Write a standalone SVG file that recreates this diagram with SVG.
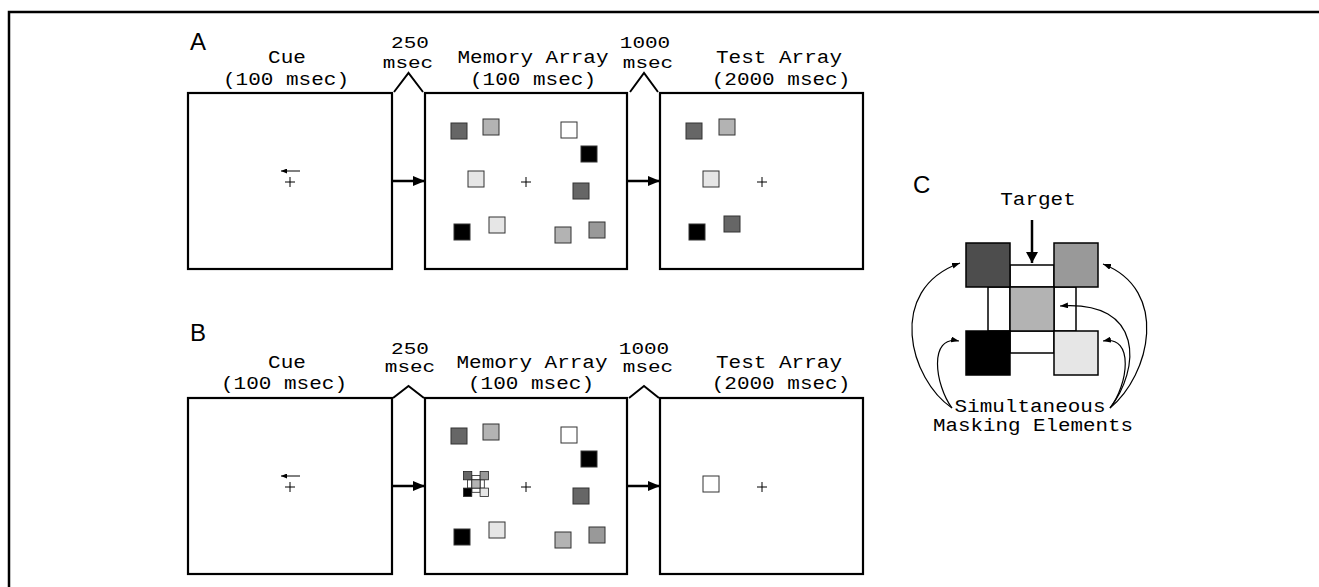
<svg xmlns="http://www.w3.org/2000/svg" width="1319" height="587" viewBox="0 0 1319 587">
<style>
.t{font-family:"Liberation Mono",monospace;font-size:18px;text-anchor:middle;fill:#000}
.d{font-family:"Liberation Mono",monospace;font-size:17px;text-anchor:middle;fill:#000}
.L{font-family:"Liberation Sans",Arial,sans-serif;font-size:24px;fill:#000}
.box{fill:#fff;stroke:#000;stroke-width:2.2}
.chev{fill:none;stroke:#000;stroke-width:2}
.sq{stroke:#333;stroke-width:1}
.cr{stroke:#000;stroke-width:1}
.conn{stroke:#000;stroke-width:2.5;fill:none}
.curve{stroke:#000;stroke-width:1.2;fill:none}
.ms{stroke:#000;stroke-width:1.5}
.mm{stroke:#222;stroke-width:0.8}
</style>
<defs>
<marker id="ah" markerUnits="userSpaceOnUse" markerWidth="12" markerHeight="10" refX="12" refY="5" orient="auto"><path d="M0,0 L12,5 L0,10 z" fill="#000"/></marker>
<marker id="ahT" markerUnits="userSpaceOnUse" markerWidth="11" markerHeight="12" refX="11" refY="6" orient="auto"><path d="M0,0 L11,6 L0,12 z" fill="#000"/></marker>
<marker id="ahs" markerUnits="userSpaceOnUse" markerWidth="8" markerHeight="6" refX="8" refY="3" orient="auto"><path d="M0,0 L8,3 L0,6 z" fill="#000"/></marker>
<marker id="ahc" markerUnits="userSpaceOnUse" markerWidth="6" markerHeight="5" refX="6" refY="2.5" orient="auto"><path d="M0,0 L6,2.5 L0,5 z" fill="#000"/></marker>
</defs>
<rect x="0" y="0" width="1319" height="587" fill="#fff"/>
<rect x="9" y="12" width="1330" height="600" fill="none" stroke="#000" stroke-width="2.5"/>

<!-- Panel A -->
<g id="panelA">
<text class="L" x="190" y="50">A</text>
<g id="A-cue">
<text class="t" x="287" y="63" textLength="37.8" lengthAdjust="spacingAndGlyphs">Cue</text>
<text class="t" x="286" y="85" textLength="126" lengthAdjust="spacingAndGlyphs">(100 msec)</text>
<rect class="box" x="188" y="93" width="204" height="176"/>
<line class="cr" x1="300" y1="171" x2="281" y2="171" marker-end="url(#ahc)"/>
<path class="cr" d="M285,182 H295 M290,177 V187"/>
</g>
<g id="A-delay1">
<text class="d" x="410" y="48" textLength="37.8" lengthAdjust="spacingAndGlyphs">250</text>
<text class="d" x="408" y="68" textLength="50.4" lengthAdjust="spacingAndGlyphs">msec</text>
<path class="chev" d="M394,92 L408.5,73 L423,92"/>
</g>
<g id="A-memory">
<text class="t" x="533" y="63" textLength="151" lengthAdjust="spacingAndGlyphs">Memory Array</text>
<text class="t" x="533" y="85" textLength="126" lengthAdjust="spacingAndGlyphs">(100 msec)</text>
<rect class="box" x="425" y="93" width="202" height="176"/>
<rect class="sq" x="451" y="123" width="16" height="16" fill="#666"/>
<rect class="sq" x="483" y="119" width="16" height="16" fill="#b3b3b3"/>
<rect class="sq" x="561" y="122" width="16" height="16" fill="#fff"/>
<rect class="sq" x="581" y="146" width="16" height="16" fill="#000"/>
<rect class="sq" x="468" y="171" width="16" height="16" fill="#e6e6e6"/>
<rect class="sq" x="573" y="183" width="16" height="16" fill="#666"/>
<rect class="sq" x="454" y="224" width="16" height="16" fill="#000"/>
<rect class="sq" x="489" y="217" width="16" height="16" fill="#e6e6e6"/>
<rect class="sq" x="555" y="227" width="16" height="16" fill="#b3b3b3"/>
<rect class="sq" x="589" y="222" width="16" height="16" fill="#999"/>
<path class="cr" d="M521,182 H531 M526,177 V187"/>
</g>
<g id="A-delay2">
<text class="d" x="645" y="48" textLength="50.4" lengthAdjust="spacingAndGlyphs">1000</text>
<text class="d" x="648" y="68" textLength="50.4" lengthAdjust="spacingAndGlyphs">msec</text>
<path class="chev" d="M630,92 L644,73 L658,92"/>
</g>
<g id="A-test">
<text class="t" x="779" y="63" textLength="126" lengthAdjust="spacingAndGlyphs">Test Array</text>
<text class="t" x="781" y="85" textLength="138.6" lengthAdjust="spacingAndGlyphs">(2000 msec)</text>
<rect class="box" x="660" y="93" width="203" height="176"/>
<rect class="sq" x="686" y="123" width="16" height="16" fill="#666"/>
<rect class="sq" x="719" y="119" width="16" height="16" fill="#b3b3b3"/>
<rect class="sq" x="703" y="171" width="16" height="16" fill="#e6e6e6"/>
<rect class="sq" x="689" y="224" width="16" height="16" fill="#000"/>
<rect class="sq" x="724" y="216" width="16" height="16" fill="#666"/>
<path class="cr" d="M757,182 H767 M762,177 V187"/>
</g>
</g>

<!-- Panel B -->
<g id="panelB">
<text class="L" x="190" y="341">B</text>
<g id="B-cue">
<text class="t" x="287" y="368" textLength="37.8" lengthAdjust="spacingAndGlyphs">Cue</text>
<text class="t" x="284" y="389" textLength="126" lengthAdjust="spacingAndGlyphs">(100 msec)</text>
<rect class="box" x="188" y="398" width="204" height="176"/>
<line class="cr" x1="300" y1="476" x2="281" y2="476" marker-end="url(#ahc)"/>
<path class="cr" d="M285,487 H295 M290,482 V492"/>
</g>
<g id="B-delay1">
<text class="d" x="410" y="354" textLength="37.8" lengthAdjust="spacingAndGlyphs">250</text>
<text class="d" x="410" y="372" textLength="50.4" lengthAdjust="spacingAndGlyphs">msec</text>
<path class="chev" d="M393,398 L408.5,386 L424,398"/>
</g>
<g id="B-memory">
<text class="t" x="532" y="368" textLength="151" lengthAdjust="spacingAndGlyphs">Memory Array</text>
<text class="t" x="531" y="389" textLength="126" lengthAdjust="spacingAndGlyphs">(100 msec)</text>
<rect class="box" x="425" y="398" width="202" height="176"/>
<rect class="sq" x="451" y="428" width="16" height="16" fill="#666"/>
<rect class="sq" x="483" y="424" width="16" height="16" fill="#b3b3b3"/>
<rect class="sq" x="561" y="427" width="16" height="16" fill="#fff"/>
<rect class="sq" x="581" y="451" width="16" height="16" fill="#000"/>
<rect class="sq" x="573" y="488" width="16" height="16" fill="#666"/>
<rect class="sq" x="454" y="529" width="16" height="16" fill="#000"/>
<rect class="sq" x="489" y="522" width="16" height="16" fill="#e6e6e6"/>
<rect class="sq" x="555" y="532" width="16" height="16" fill="#b3b3b3"/>
<rect class="sq" x="589" y="527" width="16" height="16" fill="#999"/>
<g id="B-mask">
<rect class="mm" x="471.8" y="475.6" width="8.3" height="4.2" fill="#fff"/>
<rect class="mm" x="471.8" y="488.1" width="8.3" height="4.2" fill="#fff"/>
<rect class="mm" x="467.6" y="479.8" width="4.2" height="8.3" fill="#fff"/>
<rect class="mm" x="480.1" y="479.8" width="4.2" height="8.3" fill="#fff"/>
<rect class="mm" x="463.5" y="471.5" width="8.3" height="8.3" fill="#666"/>
<rect class="mm" x="480.1" y="471.5" width="8.3" height="8.3" fill="#999"/>
<rect class="mm" x="471.8" y="479.8" width="8.3" height="8.3" fill="#b3b3b3"/>
<rect class="mm" x="463.5" y="488.1" width="8.3" height="8.3" fill="#000"/>
<rect class="mm" x="480.1" y="488.1" width="8.3" height="8.3" fill="#e6e6e6"/>
</g>
<path class="cr" stroke-width="1.6" d="M521,487 H531 M526,482 V492"/>
</g>
<g id="B-delay2">
<text class="d" x="644" y="354" textLength="50.4" lengthAdjust="spacingAndGlyphs">1000</text>
<text class="d" x="648" y="372" textLength="50.4" lengthAdjust="spacingAndGlyphs">msec</text>
<path class="chev" d="M629,398 L644,386 L659,398"/>
</g>
<g id="B-test">
<text class="t" x="779" y="368" textLength="126" lengthAdjust="spacingAndGlyphs">Test Array</text>
<text class="t" x="781" y="389" textLength="138.6" lengthAdjust="spacingAndGlyphs">(2000 msec)</text>
<rect class="box" x="660" y="398" width="203" height="176" stroke-width="3"/>
<rect class="sq" x="703" y="476" width="16" height="16" fill="#fff"/>
<path class="cr" d="M757,487 H767 M762,482 V492"/>
</g>
</g>

<!-- Panel C -->
<g id="panelC">
<text class="L" x="913" y="193">C</text>
<text class="t" x="1038" y="205" textLength="75.6" lengthAdjust="spacingAndGlyphs">Target</text>
<g id="C-element">
<rect class="ms" x="1010" y="265" width="44" height="22" fill="#fff"/>
<rect class="ms" x="1010" y="331" width="44" height="22" fill="#fff"/>
<rect class="ms" x="988" y="287" width="22" height="44" fill="#fff"/>
<rect class="ms" x="1054" y="287" width="22" height="44" fill="#fff"/>
<rect class="ms" x="966" y="243" width="44" height="44" fill="#4d4d4d"/>
<rect class="ms" x="1054" y="243" width="44" height="44" fill="#999"/>
<rect class="ms" x="1010" y="287" width="44" height="44" fill="#b3b3b3"/>
<rect class="ms" x="966" y="331" width="44" height="44" fill="#000"/>
<rect class="ms" x="1054" y="331" width="44" height="44" fill="#e6e6e6"/>
</g>
<text class="t" x="1030" y="412" textLength="151" lengthAdjust="spacingAndGlyphs">Simultaneous</text>
<text class="t" x="1033" y="431" textLength="200" lengthAdjust="spacingAndGlyphs">Masking Elements</text>
</g>

<!-- Connectors -->
<g id="connectors">
<line class="conn" x1="392" y1="181" x2="425" y2="181" marker-end="url(#ah)"/>
<line class="conn" x1="627" y1="181" x2="660" y2="181" marker-end="url(#ah)"/>
<line class="conn" x1="392" y1="486" x2="425" y2="486" marker-end="url(#ah)"/>
<line class="conn" x1="627" y1="486" x2="660" y2="486" marker-end="url(#ah)"/>
<line class="conn" x1="1032" y1="220" x2="1032" y2="263" marker-end="url(#ahT)"/>
<path class="curve" d="M952,408 C910,380 885,290 960,263" marker-end="url(#ahs)"/>
<path class="curve" d="M952,408 C935,385 928,335 959,341" marker-end="url(#ahs)"/>
<path class="curve" d="M1110,408 C1150,375 1170,290 1103,264" marker-end="url(#ahs)"/>
<path class="curve" d="M1110,408 C1140,370 1145,300 1060,306" marker-end="url(#ahs)"/>
<path class="curve" d="M1110,408 C1128,385 1135,335 1103,341" marker-end="url(#ahs)"/>
</g>
</svg>
